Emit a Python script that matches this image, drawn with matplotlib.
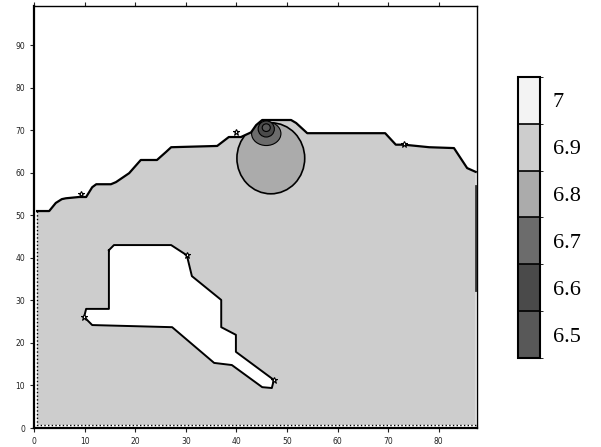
import numpy as np
import matplotlib
matplotlib.use("Agg")
import matplotlib.pyplot as plt
from matplotlib.path import Path
from matplotlib.patches import PathPatch, Ellipse
from matplotlib.colors import ListedColormap, BoundaryNorm
from matplotlib.colorbar import ColorbarBase

# domain (data units)
x_left, x_right, y_bottom = 0.6, 87.3, 0.7

# upper boundary of the domain, left to right
top_x = [0.6, 3.0, 4.3, 5.5, 6.3, 8.9, 10.3, 11.5, 12.3, 15.2, 16.2, 18.8, 21.1,
         24.3, 26.1, 27.1, 36.2, 38.5, 40.9, 42.9, 43.9, 45.1, 50.8, 51.8, 54.0,
         69.4, 71.5, 73.1, 78.1, 83.0, 85.6, 87.3]
top_y = [51.0, 51.0, 52.9, 53.8, 54.0, 54.3, 54.3, 56.6, 57.3, 57.3, 57.8, 59.9, 63.0,
         63.0, 64.9, 66.0, 66.3, 68.4, 68.4, 69.5, 71.2, 72.4, 72.4, 71.7, 69.3,
         69.3, 66.6, 66.6, 66.0, 65.8, 61.1, 60.2]

# hole in the domain (closed ring)
hole_x = [14.8, 15.8, 27.1, 30.2, 31.2, 37.0, 37.0, 39.9, 39.9, 47.4, 47.0, 45.1,
          39.1, 35.6, 27.3, 11.5, 9.9, 10.3, 14.8, 14.8]
hole_y = [41.8, 43.0, 43.0, 40.6, 35.7, 30.1, 23.7, 21.9, 17.9, 11.3, 9.4, 9.6,
          14.8, 15.3, 23.7, 24.2, 26.1, 28.0, 28.0, 41.8]

# low-value blob near the top (one ellipse per level)
blob_levels = [6.8, 6.7, 6.6, 6.5]
blob_cx = [46.8, 45.9, 45.9, 45.9]
blob_cy = [63.4, 69.2, 70.3, 70.6]
blob_w = [13.4, 5.8, 3.2, 1.6]
blob_h = [16.7, 5.6, 3.8, 1.8]

# markers along boundaries
mark_x = [30.2, 47.4, 9.9, 9.3, 39.9, 73.1]
mark_y = [40.6, 11.3, 26.1, 55.0, 69.6, 66.8]

# right edge contour segment
edge_y = [32.4, 57.0]

levels = [6.5, 6.6, 6.7, 6.8, 6.9, 7.0]
level_labels = ["6.5", "6.6", "6.7", "6.8", "6.9", "7"]
level_colors = ["#585858", "#4a4a4a", "#6c6c6c", "#ababab", "#cdcdcd", "#f3f3f3"]
color_of = dict(zip(levels, level_colors))

fig = plt.figure(figsize=(6.01, 4.47), dpi=100)
ax = fig.add_axes([0.0566, 0.0425, 0.7375, 0.9441])

# domain polygon with hole
outer = [(x_left, y_bottom), (x_right, y_bottom)] + list(zip(top_x[::-1], top_y[::-1]))
outer.append((x_left, y_bottom))
hole = list(zip(hole_x, hole_y))
verts = outer + hole
codes = ([Path.MOVETO] + [Path.LINETO] * (len(outer) - 2) + [Path.CLOSEPOLY] +
         [Path.MOVETO] + [Path.LINETO] * (len(hole) - 2) + [Path.CLOSEPOLY])
domain = PathPatch(Path(verts, codes), facecolor=color_of[6.9], edgecolor="none", zorder=1)
ax.add_patch(domain)

for lev, cx, cy, w, h in zip(blob_levels, blob_cx, blob_cy, blob_w, blob_h):
    e = Ellipse((cx, cy), w, h, facecolor=color_of[lev], edgecolor="black",
                lw=1.2 if lev == 6.8 else 0.8, zorder=2)
    ax.add_patch(e)
    e.set_clip_path(domain)

# boundary lines
ax.plot(top_x, top_y, color="black", lw=1.6, zorder=4)
ax.plot(hole_x, hole_y, color="black", lw=1.4, zorder=4)
ax.plot([x_left, x_left, x_right], [top_y[0], y_bottom, y_bottom], color="black",
        lw=1.0, ls=":", zorder=4)
ax.plot([x_right, x_right], edge_y, color="#333333", lw=2.0, zorder=4)
ax.plot(mark_x, mark_y, ls="none", marker="*", ms=5, mfc="white", mec="black", mew=0.8, zorder=5)

ax.set_xlim(0, 87.6)
ax.set_ylim(0, 99.2)
ax.set_xticks(np.arange(0, 90, 10))
ax.set_yticks(np.arange(0, 100, 10))
ax.tick_params(labelsize=5.5, length=3, width=0.8, colors="#222222", top=True)
for side in ["left", "bottom"]:
    ax.spines[side].set_linewidth(1.6)
for side in ["top", "right"]:
    ax.spines[side].set_linewidth(1.0)

# colorbar
cax = fig.add_axes([0.862, 0.199, 0.0366, 0.629])
bounds = [6.45, 6.55, 6.65, 6.75, 6.85, 6.95, 7.05]
cb = ColorbarBase(cax, cmap=ListedColormap(level_colors), norm=BoundaryNorm(bounds, 6),
                  boundaries=bounds, ticks=levels, drawedges=True)
cb.set_ticklabels(level_labels)
cb.outline.set_linewidth(1.5)
cb.dividers.set_linewidth(1.2)
cax.tick_params(length=0, pad=9)
for t in cax.get_yticklabels():
    t.set_fontfamily("Liberation Serif")
    t.set_fontsize(16)

fig.savefig("out.png", dpi=100)
